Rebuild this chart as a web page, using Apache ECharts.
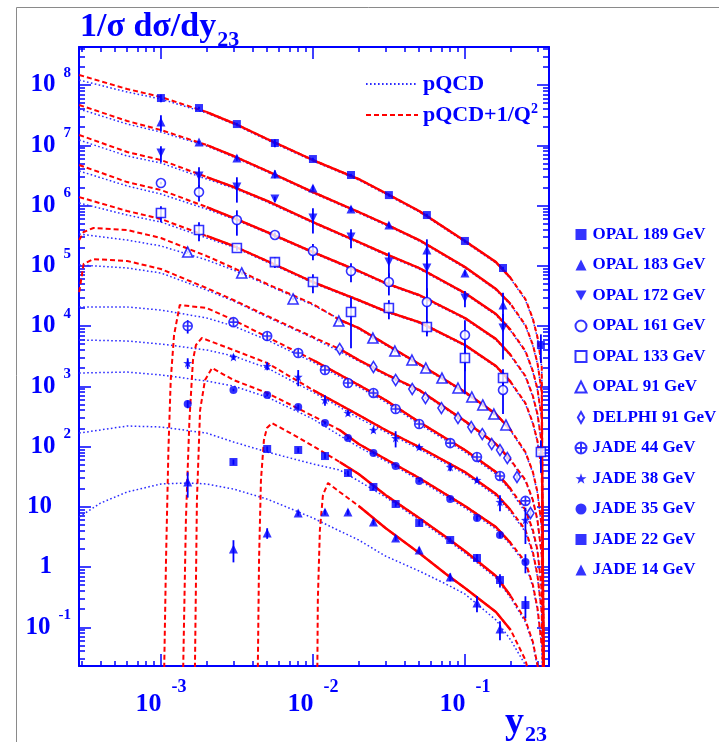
<!DOCTYPE html>
<html>
<head>
<meta charset="utf-8">
<title>1/σ dσ/dy23</title>
<script src="https://cdn.jsdelivr.net/npm/echarts@6.0.0/dist/echarts.min.js"></script>
<style>
html,body{margin:0;padding:0;background:#ffffff;}
#chart{width:719px;height:742px;}
</style>
</head>
<body>
<div id="chart"></div>
<script>
// ---------------- measured data (y23 bins and 1/sigma dsigma/dy23, scaled as plotted) ----------------
const binsOpal   = [0.001, 0.00178, 0.00316, 0.00562, 0.01, 0.0178, 0.0316, 0.0562, 0.1, 0.178, 0.316];
const binsOpal91 = [0.0015, 0.0034, 0.0074, 0.0148, 0.0248, 0.0346, 0.0448, 0.0553, 0.0706, 0.09, 0.111, 0.131, 0.155, 0.186];
const binsDelphi = [0.015, 0.025, 0.035, 0.045, 0.055, 0.07, 0.09, 0.11, 0.13, 0.15, 0.17, 0.19, 0.22, 0.27];
const binsJade   = [0.0015, 0.003, 0.005, 0.008, 0.012, 0.017, 0.025, 0.035, 0.05, 0.08, 0.12, 0.17, 0.25];

const opal189    = [6.08e7, 4.15e7, 2.25e7, 1.09e7, 5.91e6, 3.21e6, 1.49e6, 6.95e5, 2.58e5, 9.18e4, 4.84e3];
const opal189Err = [0.15, 0.05, 0.05, 0.15, 0.05, 0.05, 0.05, 0.05, 0.05, 0.05, 0.5];
const opal183    = [2.43e7, 1.13e7, 6.14e6, 3.33e6, 1.95e6, 8.75e5, 4.74e5, 1.83e5, 7.59e4, 2.23e4];
const opal183Err = [0.3, 0.05, 0.1, 0.15, 0.1, 0.1, 0.1, 0.5, 0.1, 0.6];
const opal172    = [7.43e6, 3.09e6, 2.03e6, 1.28e6, 6.21e5, 3.0e5, 1.15e5, 9.18e4, 2.92e4, 9.27e3];
const opal172Err = [0.3, 0.4, 0.45, 0.1, 0.45, 0.35, 0.45, 0.7, 0.3, 0.7];
const opal161    = [2.36e6, 1.67e6, 5.74e5, 3.24e5, 1.76e5, 8.18e4, 5.37e4, 2.50e4, 7.09e3, 867];
const opal161Err = [0.05, 0.3, 0.45, 0.1, 0.3, 0.35, 0.4, 0.7, 0.75, 0.6];
const opal133    = [7.51e5, 3.92e5, 1.97e5, 1.15e5, 5.37e4, 1.71e4, 1.99e4, 9.62e3, 2.94e3, 1.37e3, 81.1];
const opal133Err = [0.3, 0.35, 0.1, 0.2, 0.35, 0.75, 0.35, 0.3, 0.75, 0.4, 0.55];
const opal91     = [1.69e5, 7.59e4, 2.81e4, 1.21e4, 6.32e3, 3.85e3, 2.73e3, 2.01e3, 1.37e3, 936, 663, 489, 346, 228];
const opal91Err  = [0.05, 0.05, 0.05, 0.05, 0.05, 0.05, 0.05, 0.05, 0.05, 0.05, 0.05, 0.05, 0.05, 0.05];
const delphi91   = [4.15e3, 2.09e3, 1.27e3, 900, 638, 435, 297, 211, 161, 110, 87.5, 64.4, 31.2, 7.87];
const delphi91Err= [0.05, 0.05, 0.05, 0.05, 0.05, 0.05, 0.05, 0.05, 0.05, 0.05, 0.05, 0.05, 0.1, 0.15];
const jade44     = [1.0e4, 1.16e4, 6.82e3, 3.56e3, 1.86e3, 1.13e3, 773, 419, 236, 114, 67, 32.4, 12.5];
const jade44Err  = [0.25, 0.1, 0.1, 0.1, 0.1, 0.1, 0.1, 0.1, 0.1, 0.1, 0.1, 0.1, 0.15];
const jade38     = [2.43e3, 3.06e3, 2.17e3, 1.43e3, 591, 360, 188, 138, 98.1, 45.7, 27.8, 12.0, 6.03];
const jade38Err  = [0.2, 0.1, 0.15, 0.3, 0.2, 0.1, 0.1, 0.3, 0.1, 0.15, 0.1, 0.3, 0.6];
const jade35     = [507, 867, 716, 453, 245, 138, 78, 47.5, 26.8, 13.4, 6.51, 3.40, 1.21];
const jade35Err  = [0.15, 0.05, 0.05, 0.1, 0.05, 0.05, 0.05, 0.05, 0.05, 0.05, 0.1, 0.1, 0.35];
const jade22     = [null, 55.3, 90.9, 87.5, 69.5, 36.3, 21.3, 11.1, 5.37, 2.81, 1.41, 0.608, 0.234];
const jade22Err  = [0, 0.1, 0.1, 0.1, 0.1, 0.1, 0.1, 0.1, 0.1, 0.1, 0.15, 0.25, 0.4];
const jade14     = [25.8, 1.99, 3.67, 7.87, 8.18, 8.18, 5.58, 3.03, 1.92, 0.682, 0.253, 0.0935];
const jade14Err  = [0.45, 0.4, 0.2, 0.1, 0.1, 0.1, 0.1, 0.1, 0.1, 0.15, 0.3, 0.35];

// ---------------- theory curves ----------------
const curveX = [0.00029, 0.0006, 0.001, 0.002, 0.003, 0.005, 0.01, 0.02, 0.03, 0.05, 0.1, 0.16, 0.2, 0.25, 0.28, 0.3, 0.32, 0.333];
// pQCD (blue dotted)
const pqcd189   = [1.21e8, 7.65e7, 5.86e7, 3.43e7, 2.25e7, 1.22e7, 5.48e6, 2.65e6, 1.55e6, 7.80e5, 2.48e5, 1.11e5, 6.03e4, 2.70e4, 1.26e4, 6.32e3, 2.09e3, 1e-3];
const pqcd183   = [4.00e7, 2.25e7, 1.66e7, 9.72e6, 6.38e6, 3.60e6, 1.61e6, 7.51e5, 4.74e5, 2.58e5, 9.18e4, 3.96e4, 2.23e4, 1.00e4, 4.66e3, 2.34e3, 773, 1e-3];
const pqcd172   = [1.22e7, 6.64e6, 5.07e6, 2.75e6, 1.95e6, 1.14e6, 5.13e5, 2.39e5, 1.51e5, 8.83e4, 3.40e4, 1.52e4, 8.26e3, 3.70e3, 1.72e3, 867, 286, 1e-3];
const pqcd161   = [3.74e6, 2.11e6, 1.55e6, 8.75e5, 5.97e5, 3.50e5, 1.63e5, 7.87e4, 4.98e4, 3.15e4, 1.31e4, 5.86e3, 3.18e3, 1.43e3, 663, 333, 110, 1e-3];
const pqcd133   = [1.10e6, 6.95e5, 5.32e5, 2.89e5, 2.05e5, 1.15e5, 5.17e4, 2.60e4, 1.71e4, 1.12e4, 4.66e3, 2.09e3, 1.13e3, 507, 236, 119, 39.2, 1e-3];
const pqcd91    = [3.37e5, 2.67e5, 2.13e5, 1.25e5, 8.50e4, 4.79e4, 2.23e4, 8.91e3, 4.84e3, 2.25e3, 773, 333, 181, 78.0, 36.3, 16.9, 4.44, 1e-3];
const pqcdDelphi= [1.03e5, 9.18e4, 7.59e4, 3.96e4, 2.60e4, 1.41e4, 6.32e3, 2.62e3, 1.54e3, 834, 255, 106, 57.5, 26.8, 12.5, 5.80, 1.52, 1e-3];
const pqcd44    = [2.07e4, 2.07e4, 1.84e4, 1.36e4, 1.00e4, 5.86e3, 2.53e3, 972, 548, 236, 81.1, 35.0, 18.3, 8.18, 3.81, 1.77, 0.385, 1e-3];
const pqcd38    = [5.86e3, 5.64e3, 5.02e3, 4.00e3, 3.18e3, 2.01e3, 803, 297, 174, 90.9, 35.0, 15.1, 8.18, 3.81, 1.64, 0.682, 0.166, 1e-3];
const pqcd35    = [1.66e3, 1.72e3, 1.54e3, 1.22e3, 1.01e3, 663, 286, 98.1, 57.5, 27.8, 9.53, 4.27, 2.32, 1.12, 0.466, 0.193, 0.047, 1e-3];
const pqcdX22   = [0.00029, 0.0006, 0.001, 0.002, 0.003, 0.005, 0.0075, 0.01, 0.015, 0.02, 0.03, 0.05, 0.075, 0.1, 0.16, 0.2, 0.25, 0.28, 0.3];
const pqcd22    = [167, 219, 211, 167, 119, 81.1, 62.0, 51.3, 40.7, 26.8, 14.5, 6.03, 2.92, 1.71, 0.657, 0.306, 0.122, 0.0527, 0.0219];
const pqcdX14   = [0.00029, 0.0004, 0.0006, 0.001, 0.0015, 0.002, 0.003, 0.005, 0.0075, 0.01, 0.015, 0.02, 0.03, 0.05, 0.075, 0.1, 0.16, 0.2, 0.25, 0.28];
const pqcd14    = [6.76, 11.5, 17.6, 23.9, 24.8, 23.9, 19.7, 13.4, 8.83, 6.51, 3.96, 2.81, 1.52, 0.859, 0.522, 0.356, 0.132, 0.0614, 0.0236, 0.0075];
// pQCD + 1/Q^2 (red)
const power189  = [1.47e8, 8.59e7, 6.32e7, 3.56e7, 2.34e7, 1.27e7, 5.69e6, 2.75e6, 1.61e6, 8.11e5, 2.58e5, 1.15e5, 6.27e4, 2.81e4, 1.31e4, 6.57e3, 2.17e3, 1e-3];
const power183  = [4.66e7, 2.53e7, 1.79e7, 1.01e7, 6.64e6, 3.74e6, 1.67e6, 7.80e5, 4.93e5, 2.67e5, 9.53e4, 4.11e4, 2.32e4, 1.04e4, 4.84e3, 2.43e3, 803, 1e-3];
const power172  = [1.48e7, 7.73e6, 5.69e6, 2.97e6, 2.03e6, 1.19e6, 5.32e5, 2.48e5, 1.57e5, 9.18e4, 3.53e4, 1.58e4, 8.59e3, 3.85e3, 1.79e3, 900, 297, 1e-3];
const power161  = [4.70e6, 2.45e6, 1.81e6, 9.44e5, 6.21e5, 3.63e5, 1.69e5, 8.18e4, 5.17e4, 3.27e4, 1.36e4, 6.08e3, 3.30e3, 1.48e3, 689, 346, 114, 1e-3];
const power133  = [1.38e6, 8.11e5, 5.97e5, 3.12e5, 2.13e5, 1.20e5, 5.37e4, 2.70e4, 1.77e4, 1.16e4, 4.84e3, 2.17e3, 1.18e3, 527, 245, 123, 40.7, 1e-3];
const powerX91  = [0.00029, 0.00031, 0.00036, 0.0006, 0.001, 0.002, 0.003, 0.005, 0.01, 0.015, 0.02, 0.03, 0.05, 0.1, 0.16, 0.2, 0.25, 0.28, 0.3, 0.32, 0.333];
const power91   = [2.67e5, 3.63e5, 4.24e5, 3.92e5, 2.89e5, 1.45e5, 9.18e4, 4.98e4, 2.32e4, 1.26e4, 9.27e3, 5.02e3, 2.34e3, 803, 346, 188, 81.1, 37.7, 17.6, 4.61, 1e-3];
const powerDelphi=[3.66e4, 1.07e5, 1.29e5, 1.20e5, 8.83e4, 4.27e4, 2.70e4, 1.47e4, 6.57e3, 4.15e3, 2.73e3, 1.60e3, 867, 265, 110, 59.7, 27.8, 12.9, 6.03, 1.58, 1e-3];
const powerX44  = [0.00103, 0.00108, 0.00112, 0.00116, 0.00122, 0.00133, 0.002, 0.003, 0.005, 0.01, 0.02, 0.03, 0.05, 0.1, 0.16, 0.2, 0.25, 0.28, 0.3, 0.32, 0.333];
const power44   = [1e-3, 1.31, 87.5, 1.27e3, 7.09e3, 2.23e4, 1.99e4, 1.26e4, 6.57e3, 2.73e3, 1.05e3, 591, 255, 87.5, 37.7, 19.7, 8.83, 4.11, 1.92, 0.415, 1e-3];
const powerX38  = [0.00137, 0.00146, 0.00154, 0.001625, 0.0017, 0.00186, 0.003, 0.005, 0.01, 0.02, 0.03, 0.05, 0.1, 0.16, 0.2, 0.25, 0.28, 0.3, 0.32, 0.333];
const power38   = [1e-3, 6.03, 275, 2.73e3, 4.84e3, 6.32e3, 4.00e3, 2.43e3, 867, 333, 188, 98.1, 37.7, 16.3, 8.83, 4.11, 1.77, 0.736, 0.179, 1e-3];
const powerX35  = [0.00165, 0.001725, 0.00181, 0.00195, 0.00217, 0.003, 0.005, 0.01, 0.015, 0.02, 0.03, 0.05, 0.1, 0.16, 0.2, 0.25, 0.28, 0.3, 0.32];
const power35   = [1e-3, 12.9, 403, 1.27e3, 2.01e3, 1.27e3, 773, 321, 188, 110, 62.0, 30.0, 10.3, 4.61, 2.50, 1.21, 0.503, 0.209, 0.0507];
const powerX22  = [0.00428, 0.00442, 0.00455, 0.00476, 0.00498, 0.00537, 0.0075, 0.01, 0.015, 0.02, 0.03, 0.05, 0.075, 0.1, 0.16, 0.2, 0.25, 0.28, 0.3, 0.32];
const power22   = [1e-3, 1.31, 27.8, 128, 203, 245, 155, 102, 55.3, 35.0, 15.7, 6.51, 3.15, 1.84, 0.709, 0.330, 0.132, 0.0569, 0.0236, 0.0062];
const powerX14  = [0.0106, 0.01077, 0.01111, 0.01164, 0.01256, 0.015, 0.02, 0.03, 0.05, 0.075, 0.1, 0.16, 0.2, 0.25, 0.28];
const power14   = [1e-3, 0.283, 4.11, 15.7, 24.8, 17.6, 10.3, 4.44, 1.71, 0.765, 0.448, 0.179, 0.0900, 0.0286, 0.0091];
// fit ranges (solid part of the red curves), in y23
const fitLow  = [0.0017, 0.0017, 0.0017, 0.0017, 0.0017, 0.012, 0.015, 0.009, 0.009, 0.015, 0.015, 0.02];
const fitHigh = [0.2, 0.2, 0.2, 0.2, 0.2, 0.2, 0.2, 0.2, 0.2, 0.2, 0.2, 0.2];

// axis tick labels
const xMajorTicks = [1e-3, 1e-2, 1e-1];
const yMajorTicks = [1e-1, 1, 10, 1e2, 1e3, 1e4, 1e5, 1e6, 1e7, 1e8];
const legendNames = ['OPAL 189 GeV', 'OPAL 183 GeV', 'OPAL 172 GeV', 'OPAL 161 GeV', 'OPAL 133 GeV', 'OPAL 91 GeV',
                     'DELPHI 91 GeV', 'JADE 44 GeV', 'JADE 38 GeV', 'JADE 35 GeV', 'JADE 22 GeV', 'JADE 14 GeV'];

// ---------------- chart ----------------
const FONT = '"Liberation Serif", "Times New Roman", serif';
const BLUE = '#0000ff';
const RED = '#ff0000';
const X_MIN = -3.539, X_MAX = -0.447, Y_MIN = -1.643, Y_MAX = 8.631;
const lg = Math.log10;

function minorTicks(lo, hi) {
  const out = [];
  for (let n = Math.floor(lo); n <= Math.ceil(hi); n++) {
    for (let k = 2; k <= 9; k++) { const v = n + lg(k); if (v > lo && v < hi) out.push(v); }
  }
  return out;
}
const xMajor = xMajorTicks.map(lg), yMajor = yMajorTicks.map(lg);
const xMinor = minorTicks(X_MIN, X_MAX), yMinor = minorTicks(Y_MIN, Y_MAX);

const SYM = {
  downTri: 'path://M0,0L10,0L5,9Z',
  diamond: 'path://M4,0L8,7L4,14L0,7Z',
  circCross: 'path://M10,5A5,5,0,1,1,0,5A5,5,0,1,1,10,5ZM5,0L5,10M0,5L10,5',
  star: 'path://M5,0L6.18,3.38L9.76,3.45L6.9,5.62L7.94,9.05L5,7L2.06,9.05L3.1,5.62L0.24,3.45L3.82,3.38Z'
};
const datasets = [
  {x: binsOpal,   y: opal189,  e: opal189Err,  symbol: 'rect',        size: 8,      open: false},
  {x: binsOpal,   y: opal183,  e: opal183Err,  symbol: 'triangle',    size: 9,      open: false},
  {x: binsOpal,   y: opal172,  e: opal172Err,  symbol: SYM.downTri,   size: 9,      open: false},
  {x: binsOpal,   y: opal161,  e: opal161Err,  symbol: 'circle',      size: 9,      open: true},
  {x: binsOpal,   y: opal133,  e: opal133Err,  symbol: 'rect',        size: 9,      open: true},
  {x: binsOpal91, y: opal91,   e: opal91Err,   symbol: 'triangle',    size: 10,     open: true},
  {x: binsDelphi, y: delphi91, e: delphi91Err, symbol: SYM.diamond,   size: [7, 11], open: true},
  {x: binsJade,   y: jade44,   e: jade44Err,   symbol: SYM.circCross, size: 9,      open: true},
  {x: binsJade,   y: jade38,   e: jade38Err,   symbol: SYM.star,      size: 9,      open: false},
  {x: binsJade,   y: jade35,   e: jade35Err,   symbol: 'circle',      size: 8,      open: false},
  {x: binsJade,   y: jade22,   e: jade22Err,   symbol: 'rect',        size: 8,      open: false},
  {x: binsJade,   y: jade14,   e: jade14Err,   symbol: 'triangle',    size: 9,      open: false}
];
const curves = [
  {bx: curveX,  by: pqcd189,    rx: curveX,   ry: power189},
  {bx: curveX,  by: pqcd183,    rx: curveX,   ry: power183},
  {bx: curveX,  by: pqcd172,    rx: curveX,   ry: power172},
  {bx: curveX,  by: pqcd161,    rx: curveX,   ry: power161},
  {bx: curveX,  by: pqcd133,    rx: curveX,   ry: power133},
  {bx: curveX,  by: pqcd91,     rx: powerX91, ry: power91},
  {bx: curveX,  by: pqcdDelphi, rx: powerX91, ry: powerDelphi},
  {bx: curveX,  by: pqcd44,     rx: powerX44, ry: power44},
  {bx: curveX,  by: pqcd38,     rx: powerX38, ry: power38},
  {bx: curveX,  by: pqcd35,     rx: powerX35, ry: power35},
  {bx: pqcdX22, by: pqcd22,     rx: powerX22, ry: power22},
  {bx: pqcdX14, by: pqcd14,     rx: powerX14, ry: power14}
];

const series = [];
curves.forEach((c, i) => {
  series.push({
    type: 'line', name: 'pQCD', symbol: 'none', silent: true, z: 2, clip: true,
    itemStyle: {color: BLUE},
    lineStyle: {color: '#2b2bff', width: 1.5, type: [1.6, 2.4]},
    data: c.bx.map((x, j) => [lg(x), lg(c.by[j])])
  });
  series.push({
    type: 'line', name: 'pQCD+1/Q²', symbol: 'none', silent: true, z: 3, clip: true,
    itemStyle: {color: RED},
    lineStyle: {color: RED, width: 2, type: [5, 3]},
    data: c.rx.map((x, j) => [lg(x), lg(c.ry[j])])
  });
  series.push({
    type: 'line', name: 'fit range', symbol: 'none', silent: true, z: 4, clip: true,
    lineStyle: {color: RED, width: 2.4, type: 'solid'},
    data: c.rx.map((x, j) => [x, c.ry[j]]).filter(p => p[0] >= fitLow[i] && p[0] <= fitHigh[i]).map(p => [lg(p[0]), lg(p[1])])
  });
});

const errData = [];
datasets.forEach(d => d.y.forEach((v, j) => {
  if (v == null || !(d.e[j] > 0)) return;
  errData.push([lg(d.x[j]), lg(v * (1 - d.e[j])), lg(v * (1 + d.e[j]))]);
}));
series.push({
  type: 'custom', name: 'errors', z: 5, clip: true, silent: true,
  encode: {x: 0, y: [1, 2]},
  data: errData,
  renderItem: (params, api) => {
    const p1 = api.coord([api.value(0), api.value(1)]);
    const p2 = api.coord([api.value(0), api.value(2)]);
    return {type: 'line', shape: {x1: p1[0], y1: p1[1], x2: p2[0], y2: p2[1]},
            style: {stroke: BLUE, lineWidth: 1.8}};
  }
});
datasets.forEach((d, i) => {
  series.push({
    type: 'scatter', name: legendNames[i], symbol: d.symbol, symbolSize: d.size, z: 6,
    itemStyle: d.open ? {color: '#ffffff', borderColor: BLUE, borderWidth: 1.6} : {color: BLUE},
    data: d.y.map((v, j) => v == null ? null : [lg(d.x[j]), lg(v)]).filter(p => p)
  });
});

const tickStyle = {color: BLUE, width: 1.5};
function xAxisDef(pos, major, labels) {
  return {
    type: 'value', min: X_MIN, max: X_MAX, position: pos, gridIndex: 0,
    axisLine: {show: major, onZero: false, lineStyle: {color: BLUE, width: 2}},
    axisTick: {show: true, inside: true, length: major ? 12 : 5, lineStyle: tickStyle, customValues: major ? xMajor : xMinor},
    splitLine: {show: false},
    axisLabel: labels ? {
      show: true, customValues: xMajor, margin: 25,
      formatter: v => '{b|10}{e|' + Math.round(v) + '}',
      rich: {
        b: {fontFamily: FONT, fontWeight: 'bold', fontSize: 26, lineHeight: 26, color: BLUE},
        e: {fontFamily: FONT, fontWeight: 'bold', fontSize: 18, lineHeight: 18, color: BLUE, padding: [0, 0, 34, 10]}
      }
    } : {show: false}
  };
}
function yAxisDef(pos, major, labels) {
  return {
    type: 'value', min: Y_MIN, max: Y_MAX, position: pos, gridIndex: 0,
    axisLine: {show: major, onZero: false, lineStyle: {color: BLUE, width: 2}},
    axisTick: {show: true, inside: true, length: major ? 12 : 6, lineStyle: tickStyle, customValues: major ? yMajor : yMinor},
    splitLine: {show: false},
    axisLabel: labels ? {
      show: true, customValues: yMajor, margin: 8,
      formatter: v => {
        const n = Math.round(v);
        if (n === 0) return '{b|1}{s| }';
        if (n === 1) return '{b|10}{s| }';
        return '{b|10}{e|' + n + '}';
      },
      rich: {
        b: {fontFamily: FONT, fontWeight: 'bold', fontSize: 25, lineHeight: 25, color: BLUE},
        e: {fontFamily: FONT, fontWeight: 'bold', fontSize: 15, lineHeight: 15, color: BLUE, padding: [0, 0, 24, 8]},
        s: {fontSize: 15, lineHeight: 15, width: 19}
      }
    } : {show: false}
  };
}

const xAxes = [xAxisDef('bottom', true, true), xAxisDef('bottom', false, false), xAxisDef('top', true, false), xAxisDef('top', false, false)];
xAxes[0].name = '{m|y}{s|23}';
xAxes[0].nameLocation = 'end';
xAxes[0].nameGap = 0;
xAxes[0].nameTextStyle = {
  align: 'right', verticalAlign: 'top', padding: [38, 2, 0, 0],
  rich: {
    m: {fontFamily: FONT, fontWeight: 'bold', fontSize: 38, lineHeight: 38, color: BLUE},
    s: {fontFamily: FONT, fontWeight: 'bold', fontSize: 22, lineHeight: 22, color: BLUE, padding: [24, 0, 0, 1]}
  }
};

const option = {
  animation: false,
  backgroundColor: '#ffffff',
  grid: {left: 79, top: 47, width: 470, height: 619, containLabel: false, outerBoundsMode: 'none'},
  title: {
    text: '{m|1/σ dσ/dy}{s|23}', left: 80, top: 10, padding: 0,
    textStyle: {
      rich: {
        m: {fontFamily: FONT, fontWeight: 'bold', fontSize: 34, lineHeight: 34, color: BLUE},
        s: {fontFamily: FONT, fontWeight: 'bold', fontSize: 22, lineHeight: 22, color: BLUE, padding: [26, 0, 0, 1]}
      }
    }
  },
  legend: [
    {
      data: ['pQCD', 'pQCD+1/Q²'], orient: 'vertical', left: 360, top: 66,
      itemWidth: 52, itemHeight: 14, itemGap: 5, selectedMode: false,
      itemStyle: {opacity: 0},
      formatter: n => n.replace('²', '{sup|2}'),
      textStyle: {
        fontFamily: FONT, fontWeight: 'bold', fontSize: 22, lineHeight: 26, color: BLUE,
        rich: {sup: {fontFamily: FONT, fontWeight: 'bold', fontSize: 14, lineHeight: 14, color: BLUE, padding: [0, 0, 12, 0]}}
      }
    },
    {
      data: legendNames, orient: 'vertical', left: 569.5, top: 221,
      itemWidth: 11, itemHeight: 11, itemGap: 13.5, selectedMode: false,
      textStyle: {fontFamily: FONT, fontWeight: 'bold', fontSize: 17, color: BLUE, padding: [0, 0, 0, 1]}
    }
  ],
  xAxis: xAxes,
  yAxis: [yAxisDef('left', true, true), yAxisDef('left', false, false), yAxisDef('right', true, false), yAxisDef('right', false, false)],
  graphic: [{
    type: 'rect', z: -10, silent: true,
    shape: {x: 16.5, y: 7.5, width: 800, height: 800},
    style: {fill: null, stroke: '#8a8a8a', lineWidth: 1}
  }],
  series: series
};

const chart = echarts.init(document.getElementById('chart'), null, {renderer: 'canvas'});
chart.setOption(option);
</script>
</body>
</html>
